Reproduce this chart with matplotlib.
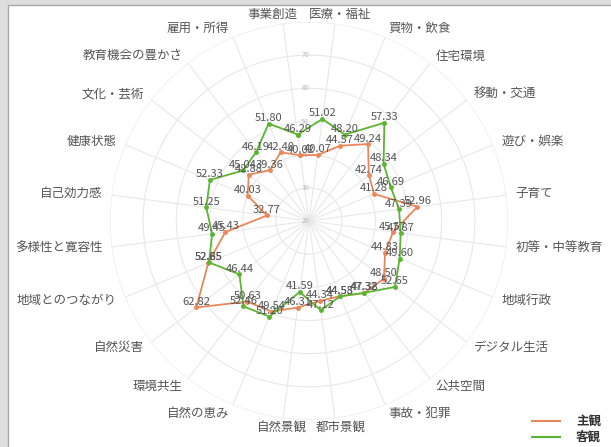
import numpy as np
import matplotlib.pyplot as plt
from matplotlib.patches import Rectangle
from matplotlib.lines import Line2D

plt.rcParams['font.family'] = ['Noto Sans CJK JP', 'DejaVu Sans']

# categories clockwise, starting just left of the top
categories = ['事業創造', '医療・福祉', '買物・飲食', '住宅環境', '移動・交通', '遊び・娯楽',
              '子育て', '初等・中等教育', '地域行政', 'デジタル生活', '公共空間', '事故・犯罪',
              '都市景観', '自然景観', '自然の恵み', '環境共生', '自然災害', '地域とのつながり',
              '多様性と寛容性', '自己効力感', '健康状態', '文化・芸術', '教育機会の豊かさ', '雇用・所得']

subjective = [40.02, 40.07, 44.57, 49.24, 42.74, 41.28, 52.96, 45.57, 44.83, 48.50, 47.38, 44.53,
              44.34, 46.31, 49.54, 50.63, 62.82, 52.85, 45.43, 32.77, 40.03, 42.88, 39.36, 42.40]
objective = [46.29, 51.02, 48.20, 57.33, 48.34, 46.69, 47.39, 47.87, 49.60, 52.65, 47.32, 44.58,
             47.12, 41.59, 51.20, 52.46, 46.44, 52.65, 49.45, 51.25, 52.33, 45.04, 46.19, 51.80]

series_names = ['主観', '客観']
colors = ['#e9875b', '#5cb531']
ticks = [20, 30, 40, 50, 60, 70]

fig = plt.figure(figsize=(6.11, 4.47), dpi=100)
fig.patch.set_facecolor('#dedede')
fig.add_artist(Rectangle((8 / 611, -0.01), 1.0, 1.01 - 5 / 447, transform=fig.transFigure,
                         facecolor='white', edgecolor='#a8a8a8', lw=1, zorder=-5))

ax = fig.add_axes([110 / 611, 27 / 447, 398 / 611, 398 / 447], projection='polar')
ax.set_theta_zero_location('N')
ax.set_theta_direction(-1)
ax.set_ylim(20, 80)
ax.axis('off')

n = len(categories)
theta = np.deg2rad(-7.5 + 15 * np.arange(n))

# grid
circ = np.linspace(0, 2 * np.pi, 300)
for v in range(30, 81, 10):
    ax.plot(circ, [v] * len(circ), color='#e8e8e8', lw=0.8, zorder=0)
for t in theta:
    ax.plot([t, t], [20, 80], color='#e8e8e8', lw=0.8, zorder=0)
for v in ticks:
    ax.text(0, v, str(v), fontsize=5, color='#bbbbbb', ha='right', va='center')

# series
for vals, col in zip([subjective, objective], colors):
    tt = np.append(theta, theta[0])
    vv = np.append(vals, vals[0])
    ax.plot(tt, vv, color=col, lw=1.3, marker='o', ms=2.5, clip_on=False, zorder=3)
for vals in [subjective, objective]:
    for t, v in zip(theta, vals):
        ax.annotate(f'{v:.2f}', (t, v), xytext=(0, 4), textcoords='offset points',
                    ha='center', va='center', fontsize=8, color='#555555', zorder=4)

# category names
label_r = 20 + 207 / 3.3
for t, name in zip(theta, categories):
    s, c = np.sin(t), np.cos(t)
    ha = 'center' if abs(s) < 0.2 else ('left' if s > 0 else 'right')
    dx = 0
    if abs(s) < 0.2:
        dx = -7 if (s < 0 and c > 0) else (3 if s > 0 else 0)
    ax.annotate(name, (t, label_r), xytext=(dx, 0), textcoords='offset points',
                ha=ha, va='center', fontsize=9, color='#555555', annotation_clip=False)

# legend (cut at the right edge)
for i, (name, col) in enumerate(zip(series_names, colors)):
    y = 1 - (421 + 16 * i) / 447
    fig.add_artist(Line2D([532 / 611, 560 / 611], [y, y], color=col, lw=1.5,
                          transform=fig.transFigure))
    fig.text(576 / 611, y, name, fontsize=9, fontweight='bold', color='#333333', va='center')

fig.savefig('out.png', dpi=100)
